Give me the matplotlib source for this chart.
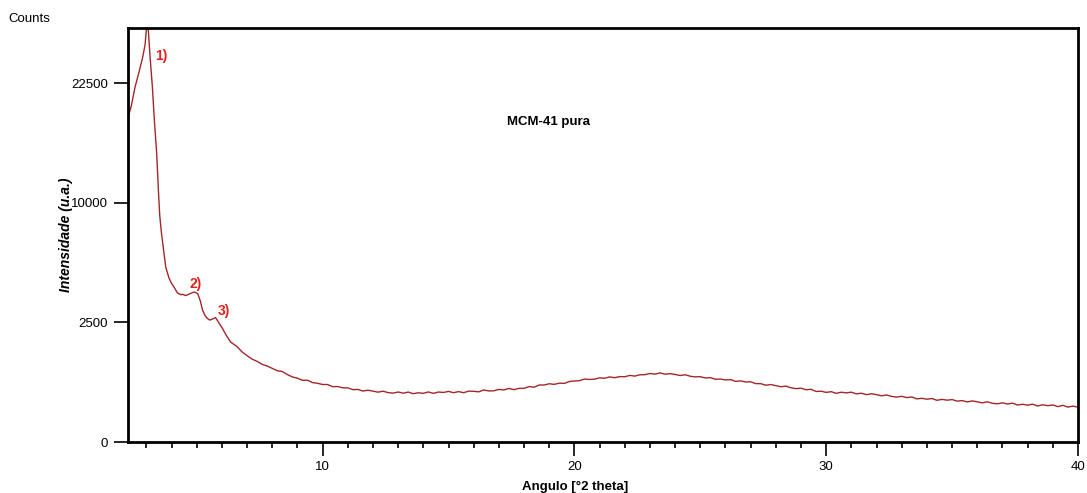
import numpy as np
import matplotlib.pyplot as plt

plt.rcParams['font.family'] = ['Liberation Sans', 'DejaVu Sans']

# low-angle region: the three MCM-41 reflections
peak_angle = [2.26, 2.40, 2.55, 2.70, 2.85, 2.95, 3.02, 3.08, 3.15, 3.24, 3.32,
              3.41, 3.48, 3.53, 3.60, 3.70, 3.77, 3.90, 4.00, 4.10, 4.23, 4.30,
              4.38, 4.45, 4.56, 4.70, 4.80, 4.88, 4.96, 5.04, 5.15, 5.23, 5.33,
              5.42, 5.52, 5.62, 5.75, 5.88, 6.02, 6.18, 6.35, 6.50, 6.61, 6.80]
peak_counts = [18300, 19700, 22000, 23800, 25800, 27600, 30600, 29500, 25800,
               22000, 18000, 14570, 11000, 9000, 7620, 6200, 5344, 4693, 4400,
               4190, 3890, 3840, 3790, 3810, 3745, 3820, 3880, 3926, 3900, 3849,
               3450, 3040, 2800, 2670, 2597, 2640, 2705, 2480, 2256, 1980, 1745,
               1650, 1583, 1420]

# wide-angle scan, 0.2 deg step from 7 to 40 deg
tail_start, tail_step = 7.0, 0.2
tail_counts = [
    1304, 1200, 1136, 1054, 1009, 947, 888, 870, 794, 741,
    711, 666, 667, 617, 603, 578, 577, 535, 538, 513,
    513, 479, 483, 454, 468, 453, 434, 452, 426, 418,
    437, 417, 436, 408, 424, 414, 438, 414, 437, 429,
    448, 425, 444, 425, 452, 450, 440, 473, 456, 458,
    483, 474, 502, 479, 503, 503, 537, 525, 568, 568,
    593, 581, 605, 601, 640, 651, 657, 694, 684, 690,
    720, 710, 741, 723, 748, 744, 775, 759, 790, 792,
    821, 804, 836, 803, 817, 797, 773, 790, 756, 741,
    746, 716, 725, 687, 693, 673, 682, 643, 653, 630,
    633, 596, 595, 564, 577, 556, 534, 546, 514, 498,
    507, 477, 486, 446, 452, 430, 443, 414, 433, 422,
    434, 405, 416, 392, 407, 392, 373, 387, 363, 353,
    365, 345, 355, 325, 334, 320, 331, 304, 318, 306,
    315, 292, 300, 281, 295, 283, 268, 283, 262, 255,
    269, 252, 264, 239, 249, 237, 250, 227, 242, 231,
    240, 219, 235, 213, 225, 213]
tail_angle = tail_start + tail_step * np.arange(len(tail_counts))

angle = np.concatenate([peak_angle, tail_angle])
counts = np.concatenate([peak_counts, tail_counts])

y_ticks = [0, 2500, 10000, 22500]
x_ticks = [10, 20, 30, 40]

peak_labels = [('1)', 3.6, 26000), ('2)', 4.95, 4356), ('3)', 6.07, 2994)]


def fwd(y):
    return np.sqrt(np.clip(y, 0, None))


def inv(y):
    return np.asarray(y) ** 2


fig = plt.figure(figsize=(10.87, 4.93), dpi=100)
ax = fig.add_axes([0.1175, 0.1034, 0.8742, 0.8392])

ax.plot(angle, counts, color='#a3262b', lw=1.0)
ax.set_yscale('function', functions=(fwd, inv))
ax.set_xlim(2.26, 40)
ax.set_ylim(0, 29900)

ax.set_yticks(y_ticks)
ax.set_yticklabels([str(t) for t in y_ticks])
ax.set_xticks(x_ticks)
ax.set_xticks(np.arange(3, 40, 1), minor=True)
ax.tick_params(axis='both', which='major', length=10, width=1.2, labelsize=9.5,
               colors='black', pad=4)
ax.tick_params(axis='x', which='minor', length=4, width=1.2)
ax.tick_params(axis='y', which='minor', length=0)
for s in ax.spines.values():
    s.set_linewidth(2)

for txt, x, y in peak_labels:
    ax.text(x, y, txt, color='#e02020', fontsize=10, fontweight='bold',
            ha='center', va='center')

ax.text(0.443, 0.7735, 'MCM-41 pura', transform=ax.transAxes, fontsize=9.5,
        fontweight='bold', ha='center', va='center')

fig.text(575 / 1087, 1 - 487 / 493, 'Angulo [°2 theta]', fontsize=9.5,
         fontweight='bold', ha='center', va='center')
fig.text(66 / 1087, 1 - 235 / 493, 'Intensidade (u.a.)', fontsize=10,
         fontweight='bold', style='italic', rotation=90, ha='center', va='center')
fig.text(8 / 1087, 1 - 19 / 493, 'Counts', fontsize=9.5, ha='left', va='center')

fig.savefig('out.png', dpi=100)
